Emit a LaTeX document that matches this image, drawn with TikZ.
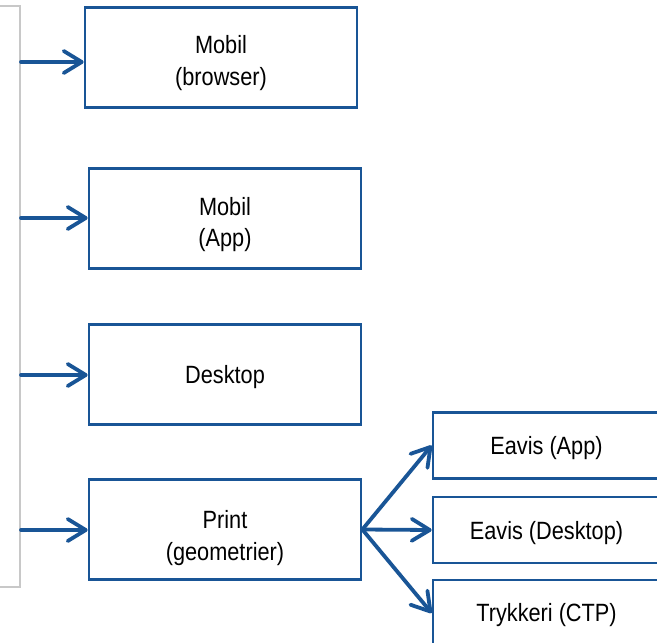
\documentclass[tikz,border=0pt]{standalone}
\usepackage{fontspec}
\usepackage{graphicx}
\setmainfont{Liberation Sans}
\usetikzlibrary{arrows.meta}
\definecolor{chartblue}{RGB}{25,85,150}
\definecolor{bracketgray}{RGB}{200,200,200}
% label whose first baseline sits #1 above the node centre, type slightly tall
\newcommand\boxlabel[2]{%
  \raisebox{#1}[0pt][0pt]{\scalebox{1}[1.15]{%
    \begin{tabular}[t]{@{}c@{}}#2\end{tabular}}}}
\begin{document}
\begin{tikzpicture}[x=1bp,y=-1bp,
  box/.style={draw=chartblue, line width=2.7bp, fill=white, inner sep=0pt,
    align=center, font=\fontsize{21.8}{27.8}\selectfont},
  mainbox/.style={box, minimum width=272bp, minimum height=100bp},
  subbox/.style={box, minimum width=227bp, minimum height=66bp},
  link/.style={draw=chartblue, line width=3.8bp, line cap=round, line join=round,
    -{Straight Barb[length=18bp,width=22bp,line width=3.8bp,round]}},
  bracket/.style={draw=bracketgray, line width=1.6bp}]
\useasboundingbox (0,0) rectangle (657,643);
\clip (0,0) rectangle (657,643);

% grouping bracket on the left
\draw[bracket] (0,6) -- (20,6) -- (20,587) -- (0,587);
\coordinate (s1) at (21,62);
\coordinate (s2) at (21,218);
\coordinate (s3) at (21,375);
\coordinate (s4) at (21,530);

% output channels
\node[mainbox] (mob) at (221,57.5) {\boxlabel{4bp}{Mobil\\(browser)}};
\node[mainbox] (app) at (225,218.5) {\boxlabel{3.5bp}{Mobil\\(App)}};
\node[mainbox] (desk) at (225,374.5) {\boxlabel{-8.5bp}{Desktop}};
\node[mainbox] (print) at (225,529.5) {\boxlabel{1bp}{Print\\(geometrier)}};

% print targets
\node[subbox] (eapp) at (546.5,445.5) {\boxlabel{-9.3bp}{Eavis (App)}};
\node[subbox] (edesk) at (546.5,530) {\boxlabel{-9.3bp}{Eavis (Desktop)}};
\node[subbox] (ctp) at (546.5,613) {\boxlabel{-8.7bp}{Trykkeri (CTP)}};

% connectors
\draw[link] (s1) -- (s1 -| mob.west);
\draw[link] (s2) -- (s2 -| app.west);
\draw[link] (s3) -- (s3 -| desk.west);
\draw[link] (s4) -- (s4 -| print.west);
\draw[link] (print.east) -- (eapp.west);
\draw[link] (print.east) -- (edesk.west);
\draw[link] (print.east) -- (ctp.west);
\end{tikzpicture}
\end{document}
